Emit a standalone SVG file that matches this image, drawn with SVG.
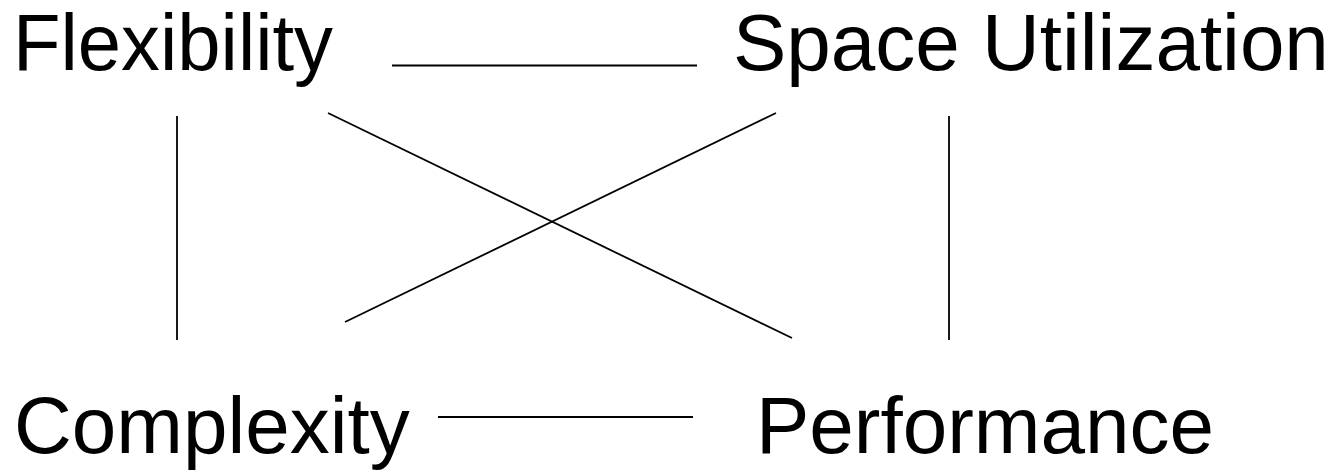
<svg xmlns="http://www.w3.org/2000/svg" width="1338" height="470" viewBox="0 0 1338 470">
  <style>
    .label { font-family: "Liberation Sans", Arial, sans-serif; font-size: 80px; fill: #000; }
    .edge { stroke: #000; stroke-width: 1.8; fill: none; }
  </style>
  <rect width="1338" height="470" fill="#fff"/>
  <g id="node-flexibility"><text class="label" x="13" y="70" textLength="320" lengthAdjust="spacingAndGlyphs">Flexibility</text></g>
  <g id="node-space-utilization"><text class="label" x="733" y="70">Space Utilization</text></g>
  <g id="node-complexity"><text class="label" x="14" y="453">Complexity</text></g>
  <g id="node-performance"><text class="label" x="756" y="453">Performance</text></g>
  <g id="connectors">
    <line class="edge" x1="392" y1="65.5" x2="697" y2="65.5"/>
    <line class="edge" x1="438" y1="417" x2="693" y2="417"/>
    <line class="edge" x1="177" y1="116" x2="177" y2="340"/>
    <line class="edge" x1="949" y1="116" x2="949" y2="340"/>
    <line class="edge" x1="328" y1="113" x2="792" y2="338"/>
    <line class="edge" x1="776" y1="113" x2="345" y2="322"/>
  </g>
</svg>
